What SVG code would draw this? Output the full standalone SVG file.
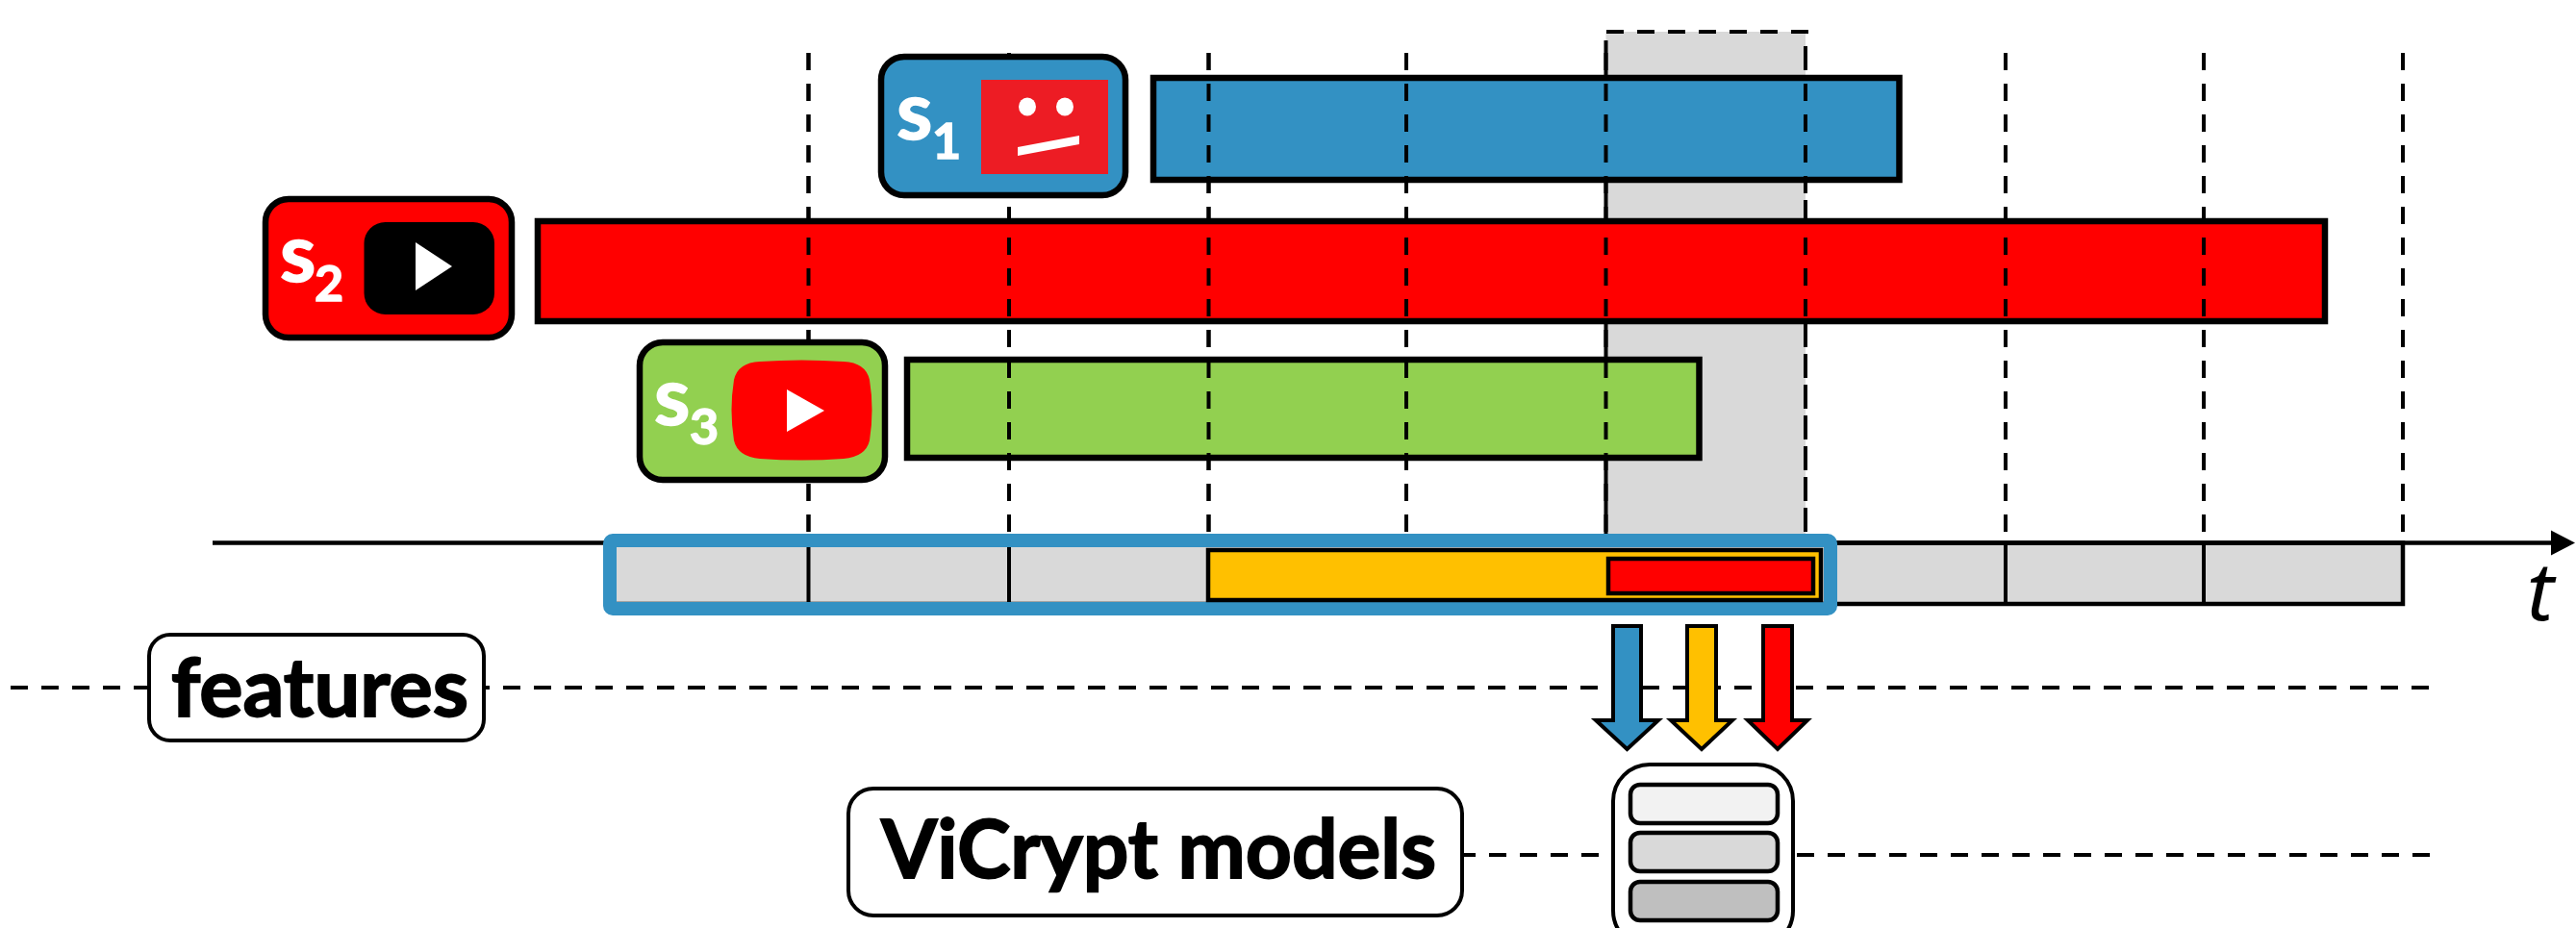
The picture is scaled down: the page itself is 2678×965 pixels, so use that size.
<svg xmlns="http://www.w3.org/2000/svg" width="2678" height="965" viewBox="0 0 2678 965">
<style>
.bar{stroke:#000;stroke-width:6.500}
.badge{stroke:#000;stroke-width:6.500}
.lbl{fill:#fff;stroke:#000;stroke-width:4}
.sn{font-family:"Lato","Liberation Sans",sans-serif;font-weight:700;fill:#fff;stroke:#fff;stroke-width:1.500;font-size:85px}
.sub{font-size:52px}
.bold{font-family:"Lato","Liberation Sans",sans-serif;font-weight:700;fill:#000;stroke:#000;stroke-width:1.800;font-size:84px}
.d{fill:none;stroke:#000;stroke-width:4;stroke-dasharray:18 14}
.v{fill:none;stroke:#000;stroke-width:4}
.arrow{stroke:#000;stroke-width:4;stroke-linejoin:miter}
.m{stroke:#000;stroke-width:4.500}
.wh{fill:#fff}
</style>
<defs>
<marker id="ah" markerUnits="userSpaceOnUse" markerWidth="26" markerHeight="28" refX="1" refY="14" orient="auto"><path d="M0 1L25 14L0 27Z" fill="#000"/></marker>
</defs>
<rect width="2678" height="965" fill="#fff"/>
<rect id="window" x="1669.500" y="33" width="207.500" height="525" fill="#d9d9d9"/>
<g id="connectors-back">
<path class="v" d="M1669.500 42V558"/>
<path class="d" style="stroke-dasharray:25 7" d="M1877 48V553"/>
<path class="d" d="M1670 33H1880"/>
<path class="d" d="M840.500 55V553M1049 55V553M1256.500 55V553M1462 55V553M2085 55V553M2291 55V553M2498 55V553"/>
</g>
<rect id="strip" class="m" x="634" y="564.500" width="1864" height="63.500" fill="#d9d9d9"/>
<g id="bar-s1"><rect class="bar" x="1199" y="81" width="775.500" height="106" fill="#3391c3"/></g>
<g id="bar-s2"><rect class="bar" x="559" y="230" width="1858" height="104" fill="#f00"/></g>
<g id="bar-s3"><rect class="bar" x="943" y="374" width="823.500" height="102" fill="#92d050"/></g>
<g id="connectors">
<path class="d" d="M840.500 55V553M1049 55V553M1256.500 55V553M1462 55V553M1669.500 55V553M1877 55V553M2085 55V553M2291 55V553M2498 55V553"/>
<path class="d" d="M11 715H2526M1516 889H2526"/>
<path class="v" d="M840.500 564V628M1049 564V628M2085 564V628M2291 564V628"/>
<path class="v" style="stroke-width:4.500" d="M221 564.500H2653" marker-end="url(#ah)"/>
</g>
<g id="window-strip">
<rect x="634" y="562" width="1269" height="71" rx="3" fill="none" stroke="#3391c3" stroke-width="14" stroke-linejoin="round"/>
<rect class="m" x="1256" y="572" width="637" height="52" fill="#ffc000"/>
<rect class="m" x="1672" y="581" width="213" height="36" fill="#f00"/>
</g>
<g id="node-s1">
<rect class="badge" x="916" y="59" width="254" height="144" rx="24" fill="#3391c3"/>
<rect x="1020" y="83" width="132" height="98" fill="#ed1c24"/>
<ellipse class="wh" cx="1068" cy="111" rx="9" ry="9.500"/>
<ellipse class="wh" cx="1107" cy="111" rx="9" ry="9.500"/>
<path class="wh" d="M1058 153L1122 141V150L1058 162Z"/>
<text class="sn" x="932" y="145">s<tspan class="sub" x="969" y="165">1</tspan></text>
</g>
<g id="node-s2">
<rect class="badge" x="276" y="207" width="256" height="144" rx="24" fill="#f00"/>
<rect x="378.500" y="231" width="135.500" height="96" rx="22" fill="#000"/>
<path class="wh" d="M432 252L470 277L432 302Z"/>
<text class="sn" x="291" y="293">s<tspan class="sub" x="327" y="313">2</tspan></text>
</g>
<g id="node-s3">
<rect class="badge" x="665" y="356" width="255" height="143" rx="24" fill="#92d050"/>
<path fill="#f00" d="M790 376Q833 373 877 376Q900 377 904 395Q909 426 904 458Q900 475 877 477Q833 480 790 477Q767 475 763 458Q758 426 763 395Q767 377 790 376Z"/>
<path class="wh" d="M818 405L857 427L818 449Z"/>
<text class="sn" x="680" y="442">s<tspan class="sub" x="717" y="462">3</tspan></text>
</g>
<text id="t-label" x="2627" y="645" font-family="Noto Sans,sans-serif" font-style="italic" font-size="84" fill="#000">t</text>
<g id="arrow-blue"><path class="arrow" fill="#3391c3" d="M1677 651H1706V749H1724L1691.500 779L1659 749H1677Z"/></g>
<g id="arrow-orange"><path class="arrow" fill="#ffc000" d="M1754 651H1784V749H1801L1769 779L1737 749H1754Z"/></g>
<g id="arrow-red"><path class="arrow" fill="#f00" d="M1833 651H1863V749H1879L1848 779L1817 749H1833Z"/></g>
<g id="node-features">
<rect class="lbl" x="155" y="660" width="348" height="110" rx="22"/>
<text class="bold" x="178" y="745" textLength="309" lengthAdjust="spacingAndGlyphs">features</text>
</g>
<g id="node-vicrypt">
<rect class="lbl" x="882" y="820" width="638" height="132" rx="26"/>
<text class="bold" x="916" y="913" textLength="577" lengthAdjust="spacingAndGlyphs">ViCrypt models</text>
</g>
<g id="node-models">
<rect class="lbl" x="1677" y="795" width="187" height="190" rx="38"/>
<rect class="m" x="1695" y="816" width="153" height="40" rx="10" fill="#f2f2f2"/>
<rect class="m" x="1695" y="866" width="153" height="40" rx="10" fill="#d9d9d9"/>
<rect class="m" x="1695" y="917" width="153" height="40" rx="10" fill="#bfbfbf"/>
</g>
</svg>
